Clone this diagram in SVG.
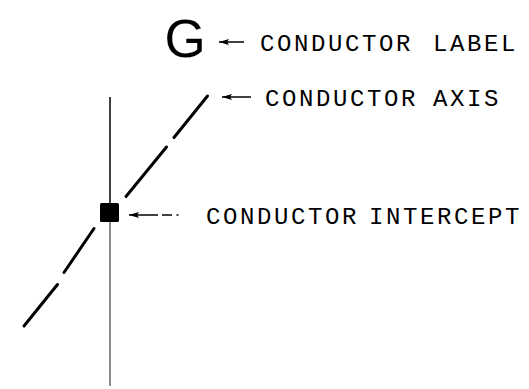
<svg xmlns="http://www.w3.org/2000/svg" width="529" height="389" viewBox="0 0 529 389">
<style>
.lbl{font-family:"Liberation Mono","DejaVu Sans Mono",monospace;font-size:24px;letter-spacing:2.6px;fill:#000}
.big{font-family:"Liberation Sans","Noto Sans",sans-serif;font-size:53px;fill:#000}
.axis{stroke:#000;stroke-width:3;stroke-linecap:round;fill:none}
.ptr{stroke:#000;stroke-width:1.5;fill:none}
</style>
<defs>
<marker id="ah" markerWidth="10" markerHeight="6" refX="10" refY="3" orient="auto" markerUnits="userSpaceOnUse">
<path d="M10,3 L0,0 L2,3 L0,6 Z" fill="#000"/>
</marker>
</defs>
<rect width="529" height="389" fill="#fff"/>
<g id="conductor-line">
<line x1="110" y1="97" x2="110" y2="204" stroke="#000" stroke-width="1.5"/>
<line x1="110" y1="221" x2="110" y2="386" stroke="#666" stroke-width="1.5"/>
</g>
<g id="conductor-axis">
<line class="axis" x1="207.5" y1="96" x2="174" y2="137.5"/>
<line class="axis" x1="166.5" y1="147" x2="126" y2="196.5"/>
<line class="axis" x1="94" y1="228.5" x2="64" y2="272.5"/>
<line class="axis" x1="57.5" y1="284.5" x2="24" y2="326"/>
</g>
<g id="conductor-intercept">
<rect x="100" y="203" width="19" height="19" rx="1.5" fill="#000"/>
</g>
<g id="conductor-label">
<text class="big" x="164.5" y="57">G</text>
</g>
<g id="connectors">
<line class="ptr" x1="244" y1="42" x2="219" y2="42" marker-end="url(#ah)"/>
<line class="ptr" x1="251" y1="97" x2="222" y2="97" marker-end="url(#ah)"/>
<line class="ptr" x1="158" y1="215" x2="129" y2="215" marker-end="url(#ah)"/>
<line class="ptr" x1="162" y1="215" x2="172" y2="215"/>
<line class="ptr" x1="176.5" y1="215" x2="178.5" y2="215"/>
</g>
<g id="texts">
<text class="lbl" x="260" y="51">CONDUCTOR <tspan x="433">LABEL</tspan></text>
<text class="lbl" x="265" y="106">CONDUCTOR <tspan x="433">AXIS</tspan></text>
<text class="lbl" x="206" y="224">CONDUCTOR <tspan x="369">INTERCEPT</tspan></text>
</g>
</svg>
